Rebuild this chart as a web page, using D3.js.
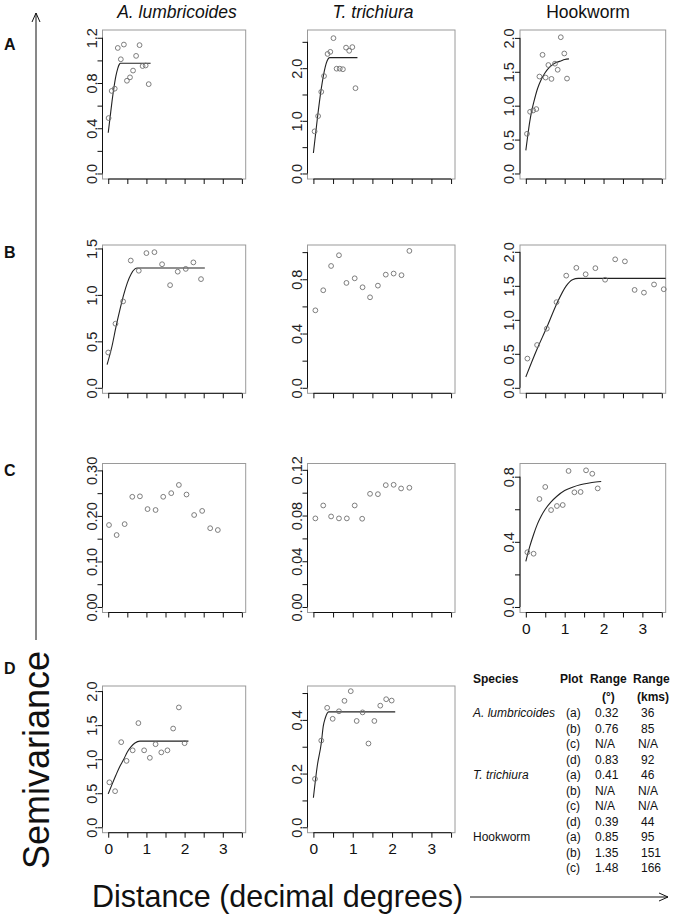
<!DOCTYPE html>
<html><head><meta charset="utf-8">
<script src="https://cdn.jsdelivr.net/npm/d3@7"></script>
<style>body{margin:0;background:#fff}svg{display:block;font-family:"Liberation Sans",Arial,sans-serif}</style>
</head><body><svg id="c" width="675" height="918"></svg>
<script>
// ---------- DATA ----------
const columnTitles = ["A. lumbricoides", "T. trichiura", "Hookworm"];
const columnItalic = [true, true, false];
const rowLetters = ["A", "B", "C", "D"];
const xTicks = [0, 0.5, 1, 1.5, 2, 2.5, 3, 3.5];
const xTickLabels = ["0", "", "1", "", "2", "", "3", ""];

const ptsA1 = [[0.01,0.49],[0.09,0.73],[0.17,0.75],[0.25,1.11],[0.33,1.01],[0.41,1.14],[0.49,0.82],[0.57,0.85],[0.65,0.91],[0.73,1.04],[0.82,1.135],[0.90,0.95],[0.98,0.955],[1.06,0.79]];
const fitA1 = [[0,0.36],[0.05,0.50],[0.1,0.64],[0.15,0.76],[0.2,0.86],[0.25,0.93],[0.29,0.965],[0.32,0.975],[1.11,0.975]];
const ptsA2 = [[0.03,0.80],[0.12,1.09],[0.20,1.55],[0.27,1.85],[0.36,2.27],[0.43,2.31],[0.51,2.57],[0.59,1.99],[0.67,1.99],[0.75,1.98],[0.83,2.39],[0.91,2.33],[0.99,2.40],[1.07,1.62]];
const fitA2 = [[0,0.39],[0.1,1.04],[0.2,1.61],[0.3,2.02],[0.35,2.14],[0.41,2.20],[1.12,2.20]];
const ptsA3 = [[0.03,0.585],[0.11,0.91],[0.19,0.93],[0.27,0.95],[0.35,1.43],[0.43,1.75],[0.51,1.415],[0.58,1.60],[0.66,1.395],[0.75,1.62],[0.82,1.53],[0.90,2.01],[0.99,1.77],[1.06,1.40]];
const fitA3 = [[0,0.34],[0.05,0.56],[0.1,0.76],[0.15,0.92],[0.2,1.04],[0.3,1.25],[0.4,1.39],[0.5,1.49],[0.6,1.56],[0.7,1.61],[0.8,1.64],[0.9,1.66],[1.0,1.68],[1.11,1.69]];

const ptsB1 = [[0.0,0.38],[0.19,0.69],[0.39,0.93],[0.59,1.37],[0.80,1.26],[1.0,1.45],[1.21,1.46],[1.41,1.33],[1.62,1.105],[1.82,1.25],[2.03,1.28],[2.23,1.35],[2.43,1.17]];
const fitB1 = [[-0.03,0.25],[0.1,0.45],[0.2,0.65],[0.3,0.83],[0.4,0.995],[0.5,1.13],[0.6,1.225],[0.7,1.28],[0.76,1.29],[2.53,1.29]];
const ptsB2 = [[0.05,0.571],[0.25,0.719],[0.45,0.898],[0.65,0.977],[0.84,0.773],[1.05,0.807],[1.25,0.741],[1.44,0.667],[1.64,0.753],[1.84,0.834],[2.04,0.842],[2.24,0.830],[2.44,1.009]];
const fitB2 = [];
const ptsB3 = [[0.04,0.43],[0.29,0.63],[0.54,0.87],[0.79,1.26],[1.04,1.65],[1.30,1.765],[1.54,1.67],[1.79,1.76],[2.04,1.59],[2.30,1.89],[2.55,1.86],[2.80,1.44],[3.04,1.40],[3.30,1.52],[3.55,1.45]];
const fitB3 = [[0,0.16],[0.29,0.57],[0.54,0.89],[0.79,1.23],[1.04,1.50],[1.2,1.59],[1.35,1.61],[3.6,1.61]];

const ptsC1 = [[0.02,0.180],[0.22,0.158],[0.43,0.182],[0.63,0.242],[0.83,0.243],[1.03,0.215],[1.24,0.213],[1.44,0.242],[1.65,0.250],[1.85,0.268],[2.05,0.247],[2.25,0.202],[2.46,0.211],[2.67,0.173],[2.87,0.169]];
const fitC1 = [];
const ptsC2 = [[0.05,0.0775],[0.25,0.0888],[0.45,0.0792],[0.65,0.0775],[0.85,0.0775],[1.05,0.0888],[1.24,0.0772],[1.44,0.099],[1.64,0.0987],[1.84,0.1066],[2.04,0.1069],[2.23,0.1037],[2.44,0.1043]];
const fitC2 = [];
const ptsC3 = [[0.04,0.336],[0.20,0.327],[0.35,0.663],[0.50,0.737],[0.65,0.595],[0.80,0.620],[0.95,0.626],[1.10,0.835],[1.25,0.704],[1.41,0.706],[1.55,0.839],[1.71,0.818],[1.85,0.728]];
const fitC3 = [[0,0.28],[0.1,0.37],[0.2,0.445],[0.3,0.51],[0.4,0.56],[0.5,0.60],[0.65,0.645],[0.8,0.68],[1.0,0.715],[1.2,0.735],[1.4,0.75],[1.6,0.76],[1.8,0.767],[1.94,0.77]];

const ptsD1 = [[0.03,0.66],[0.18,0.53],[0.34,1.25],[0.48,0.975],[0.64,1.13],[0.79,1.53],[0.94,1.13],[1.09,1.02],[1.24,1.22],[1.39,1.10],[1.55,1.13],[1.70,1.45],[1.85,1.76],[2.0,1.235]];
const fitD1 = [[0,0.49],[0.1,0.63],[0.2,0.764],[0.3,0.89],[0.4,0.99],[0.5,1.106],[0.6,1.184],[0.7,1.238],[0.83,1.265],[2.10,1.265]];
const ptsD2 = [[0.04,0.18],[0.20,0.323],[0.35,0.445],[0.49,0.404],[0.65,0.432],[0.79,0.471],[0.95,0.507],[1.10,0.396],[1.25,0.428],[1.40,0.312],[1.55,0.396],[1.70,0.453],[1.85,0.477],[1.99,0.472]];
const fitD2 = [[0,0.11],[0.1,0.23],[0.2,0.313],[0.25,0.376],[0.3,0.406],[0.35,0.425],[0.39,0.43],[2.08,0.43]];

const yMaxes = {A1:1.22, A2:2.62, A3:2.035, B1:1.478, B2:1.012, B3:2.02, C1:0.303, C2:0.1207, C3:0.847, D1:1.995, D2:0.506};
const yTicksA1 = [0,0.2,0.4,0.6,0.8,1.0,1.2], yLabA1 = ["0.0","","0.4","","0.8","","1.2"];
const yTicksA2 = [0,0.5,1,1.5,2,2.5], yLabA2 = ["0.0","","1.0","","2.0",""];
const yTicksA3 = [0,0.5,1,1.5,2], yLabA3 = ["0.0","0.5","1.0","1.5","2.0"];
const yTicksB1 = [0,0.5,1,1.5], yLabB1 = ["0.0","0.5","1.0","1.5"];
const yTicksB2 = [0,0.2,0.4,0.6,0.8,1.0], yLabB2 = ["0.0","","0.4","","0.8",""];
const yTicksB3 = [0,0.5,1,1.5,2], yLabB3 = ["0.0","0.5","1.0","1.5","2.0"];
const yTicksC1 = [0,0.05,0.1,0.15,0.2,0.25,0.3], yLabC1 = ["0.00","","0.10","","0.20","","0.30"];
const yTicksC2 = [0,0.02,0.04,0.06,0.08,0.1,0.12], yLabC2 = ["0.00","","0.04","","0.08","","0.12"];
const yTicksC3 = [0,0.2,0.4,0.6,0.8], yLabC3 = ["0.0","","0.4","","0.8"];
const yTicksD1 = [0,0.5,1,1.5,2], yLabD1 = ["0.0","0.5","1.0","1.5","2.0"];
const yTicksD2 = [0,0.1,0.2,0.3,0.4,0.5], yLabD2 = ["0.0","","0.2","","0.4",""];

const tableHeader1 = ["Species", "Plot", "Range", "Range"];
const tableHeader2 = ["", "", "(°)", "(kms)"];
const tableSpecies = ["A. lumbricoides","","","","T. trichiura","","","","Hookworm","",""];
const tableSpeciesItalic = [true,false,false,false,true,false,false,false,false,false,false];
const tablePlot = ["(a)","(b)","(c)","(d)","(a)","(b)","(c)","(d)","(a)","(b)","(c)"];
const tableRangeDeg = ["0.32","0.76","N/A","0.83","0.41","N/A","N/A","0.39","0.85","1.35","1.48"];
const tableRangeKm = ["36","85","N/A","92","46","N/A","N/A","44","95","151","166"];

// ---------- LAYOUT ----------
const colL = [102.5, 307.5, 520], colR = [245.7, 455, 665.7];
const rowT = [30, 245, 463.5, 686], rowB = [179, 393.3, 612.5, 832.7];

const panels = [
  {id:"A1", r:0, c:0, pts:ptsA1, fit:fitA1, yt:yTicksA1, yl:yLabA1, xlab:false},
  {id:"A2", r:0, c:1, pts:ptsA2, fit:fitA2, yt:yTicksA2, yl:yLabA2, xlab:false},
  {id:"A3", r:0, c:2, pts:ptsA3, fit:fitA3, yt:yTicksA3, yl:yLabA3, xlab:false},
  {id:"B1", r:1, c:0, pts:ptsB1, fit:fitB1, yt:yTicksB1, yl:yLabB1, xlab:false},
  {id:"B2", r:1, c:1, pts:ptsB2, fit:fitB2, yt:yTicksB2, yl:yLabB2, xlab:false},
  {id:"B3", r:1, c:2, pts:ptsB3, fit:fitB3, yt:yTicksB3, yl:yLabB3, xlab:false},
  {id:"C1", r:2, c:0, pts:ptsC1, fit:fitC1, yt:yTicksC1, yl:yLabC1, xlab:false},
  {id:"C2", r:2, c:1, pts:ptsC2, fit:fitC2, yt:yTicksC2, yl:yLabC2, xlab:false},
  {id:"C3", r:2, c:2, pts:ptsC3, fit:fitC3, yt:yTicksC3, yl:yLabC3, xlab:true},
  {id:"D1", r:3, c:0, pts:ptsD1, fit:fitD1, yt:yTicksD1, yl:yLabD1, xlab:true},
  {id:"D2", r:3, c:1, pts:ptsD2, fit:fitD2, yt:yTicksD2, yl:yLabD2, xlab:true}
];

const svg = d3.select("#c");
const FONT = '"Liberation Sans", Arial, sans-serif';

panels.forEach(p => {
  const L = colL[p.c], R = colR[p.c], T = rowT[p.r], B = rowB[p.r];
  const ymax = yMaxes[p.id];
  const x = d3.scaleLinear().domain([-0.15, 3.6]).range([L, R]);
  const y = d3.scaleLinear().domain([-0.04 * ymax, 1.04 * ymax]).range([B, T]);
  const g = svg.append("g");

  g.append("rect").attr("x", L).attr("y", T).attr("width", R - L).attr("height", B - T)
    .attr("fill", "none").attr("stroke", "#9a9a9a").attr("stroke-width", 1);

  // y axis
  const ya = g.append("g").attr("transform", `translate(${L},0)`)
    .call(d3.axisLeft(y).tickValues(p.yt).tickSize(5).tickSizeOuter(0).tickFormat((d, i) => p.yl[i]));
  ya.select(".domain").remove();
  ya.selectAll(".tick line").attr("stroke", "#111");
  ya.selectAll(".tick text")
    .attr("x", 0).attr("dy", null).attr("y", 0)
    .attr("transform", "translate(-6,0) rotate(-90)")
    .attr("text-anchor", "middle")
    .attr("font-family", FONT).attr("font-size", 14.5).attr("fill", "#222");
  ya.append("line").attr("x1", 0).attr("x2", 0)
    .attr("y1", y(p.yt[0])).attr("y2", y(p.yt[p.yt.length - 1])).attr("stroke", "#111");

  // x axis
  const xa = g.append("g").attr("transform", `translate(0,${B})`)
    .call(d3.axisBottom(x).tickValues(xTicks).tickSize(5).tickSizeOuter(0)
      .tickFormat((d, i) => p.xlab ? xTickLabels[i] : ""));
  xa.select(".domain").remove();
  xa.selectAll(".tick line").attr("stroke", "#111");
  xa.selectAll(".tick text").attr("y", 21).attr("dy", null)
    .attr("font-family", FONT).attr("font-size", 15.5).attr("fill", "#111");
  xa.append("line").attr("y1", 0).attr("y2", 0)
    .attr("x1", x(xTicks[0])).attr("x2", x(xTicks[xTicks.length - 1])).attr("stroke", "#111");

  // fitted model
  if (p.fit.length) {
    g.append("path").datum(p.fit)
      .attr("d", d3.line().x(d => x(d[0])).y(d => y(d[1])).curve(d3.curveMonotoneX))
      .attr("fill", "none").attr("stroke", "#222").attr("stroke-width", 1.1);
  }
  // empirical points
  g.selectAll("circle.pt").data(p.pts).join("circle").attr("class", "pt")
    .attr("cx", d => x(d[0])).attr("cy", d => y(d[1])).attr("r", 2.4)
    .attr("fill", "none").attr("stroke", "#6f6f6f").attr("stroke-width", 0.9);
});

// column titles
const titleX = [177, 373, 588];
svg.selectAll("text.ct").data(columnTitles).join("text").attr("class", "ct")
  .attr("x", (d, i) => titleX[i]).attr("y", 18).attr("text-anchor", "middle")
  .attr("font-family", FONT).attr("font-size", 17.5)
  .attr("font-style", (d, i) => columnItalic[i] ? "italic" : "normal")
  .attr("fill", "#111").text(d => d);

// row letters
const letterY = [50, 258, 476, 674];
svg.selectAll("text.rl").data(rowLetters).join("text").attr("class", "rl")
  .attr("x", 4).attr("y", (d, i) => letterY[i])
  .attr("font-family", FONT).attr("font-size", 16).attr("font-weight", "bold")
  .attr("fill", "#111").text(d => d);

// axis titles with arrows
svg.append("line").attr("x1", 36).attr("x2", 36).attr("y1", 640).attr("y2", 13).attr("stroke", "#111");
svg.append("path").attr("d", "M32,22 L36,13 L40,22").attr("fill", "none").attr("stroke", "#111");
svg.append("text").attr("transform", "translate(49,760) rotate(-90)").attr("text-anchor", "middle")
  .attr("font-family", FONT).attr("font-size", 36).attr("fill", "#111").text("Semivariance");

svg.append("text").attr("x", 92).attr("y", 907)
  .attr("font-family", FONT).attr("font-size", 30.5).attr("fill", "#111").text("Distance (decimal degrees)");
svg.append("line").attr("x1", 470).attr("x2", 668).attr("y1", 897).attr("y2", 897).attr("stroke", "#111");
svg.append("path").attr("d", "M659,893 L668,897 L659,901").attr("fill", "none").attr("stroke", "#111");

// table
const tg = svg.append("g").attr("font-family", FONT).attr("font-size", 12).attr("fill", "#111");
const hx = [473, 560, 590, 633];
tableHeader1.forEach((t, i) => tg.append("text").attr("x", hx[i]).attr("y", 683).attr("font-weight", "bold").text(t));
const h2x = [0, 0, 602, 637];
tableHeader2.forEach((t, i) => { if (t) tg.append("text").attr("x", h2x[i]).attr("y", 701).attr("font-weight", "bold").text(t); });
tablePlot.forEach((t, i) => {
  const yy = 717 + i * 15.5;
  if (tableSpecies[i]) tg.append("text").attr("x", 473).attr("y", yy)
    .attr("font-style", tableSpeciesItalic[i] ? "italic" : "normal").text(tableSpecies[i]);
  tg.append("text").attr("x", 566).attr("y", yy).text(t);
  tg.append("text").attr("x", 595).attr("y", yy).text(tableRangeDeg[i]);
  tg.append("text").attr("x", tableRangeKm[i] === "N/A" ? 638 : 641).attr("y", yy).text(tableRangeKm[i]);
});
</script></body></html>
